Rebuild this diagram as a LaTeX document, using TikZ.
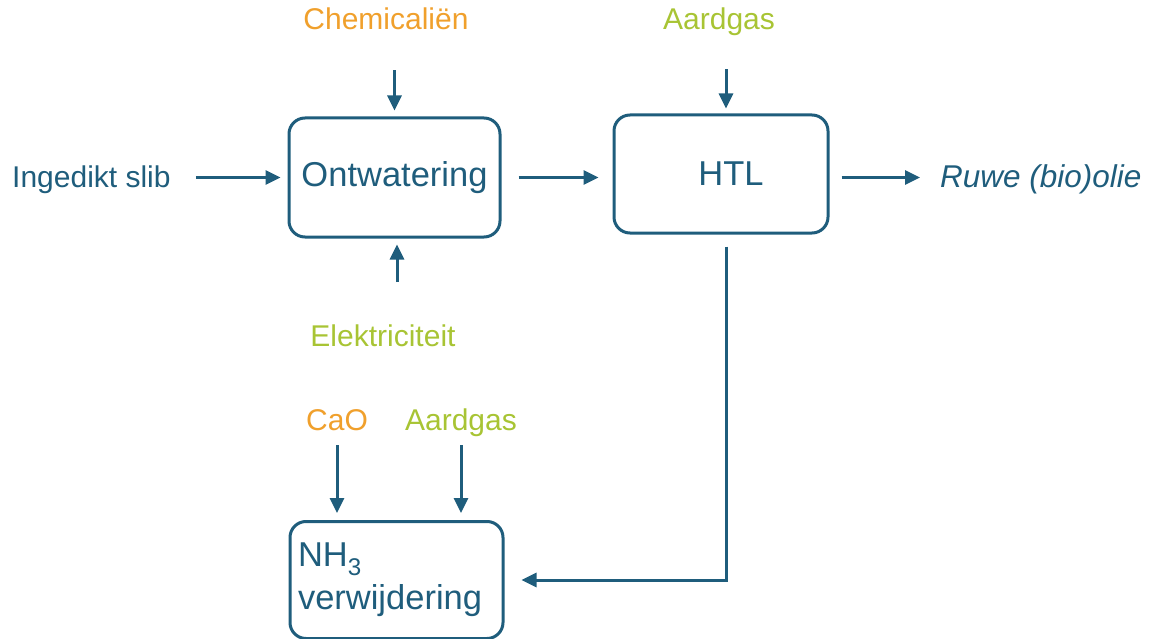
\documentclass[tikz,border=0pt]{standalone}
\usepackage{fontspec}
\setmainfont{Liberation Sans}
\usetikzlibrary{arrows.meta}
\definecolor{flowblue}{HTML}{1F5D7C}
\definecolor{chemorange}{HTML}{F0A02C}
\definecolor{energygreen}{HTML}{A8C434}
\begin{document}
\begin{tikzpicture}
    [
        x=1pt, y=-1pt,
        unit/.style={rectangle, draw=flowblue, line width=3pt, rounded corners=16pt,
            text=flowblue, font=\fontsize{34.5}{43}\selectfont},
        label/.style={inner sep=0pt, anchor=base, font=\fontsize{30}{36}\selectfont},
        flow/.style={draw=flowblue, line width=3pt, -{Triangle[length=15pt,width=14pt]}},
    ]
    \useasboundingbox (0,0) rectangle (1153,639);
    \node (ontw) at (394.5,177.5) [unit, minimum width=211pt, minimum height=119pt] {Ontwatering};
    \node (htl) at (721,174) [unit, minimum width=214pt, minimum height=118pt] {\hspace*{20pt}HTL};
    \node (nh3) at (396.5,580) [unit, minimum width=213pt, minimum height=117pt,
        text width=197pt, align=left] {NH\textsubscript{3}\\verwijdering};
    \node (chem) at (386,30) [label, text=chemorange] {Chemicaliën};
    \node (gas1) at (719,30) [label, text=energygreen] {Aardgas};
    \node (elek) at (383,346) [label, text=energygreen] {Elektriciteit};
    \node (slib) at (12,187) [label, anchor=base west, text=flowblue] {Ingedikt slib};
    \node (olie) at (940,188) [label, anchor=base west, text=flowblue,
        font=\fontsize{31.5}{36}\selectfont\itshape] {Ruwe (bio)olie};
    \node (cao) at (337,430) [label, text=chemorange] {CaO};
    \node (gas2) at (461,430) [label, text=energygreen] {Aardgas};
    \draw [flow, shorten <=40pt, shorten >=6pt] (chem.south -| ontw.north) -- (ontw.north);
    \draw [flow, shorten <=33pt, shorten >=5pt] ([xshift=5pt]htl.north |- gas1.south) -- ([xshift=5pt]htl.north);
    \draw [flow, shorten <=42pt, shorten >=6pt] ([xshift=2.5pt]ontw.south |- elek.north) -- ([xshift=2.5pt]ontw.south);
    \draw [flow, shorten <=25pt, shorten >=7pt] (slib.east |- ontw.west) -- (ontw.west);
    \draw [flow, shorten <=17pt, shorten >=14pt] (ontw.east) -- (htl.west |- ontw.east);
    \draw [flow, shorten <=12pt, shorten >=20pt] (htl.east |- ontw.east) -- (olie.west |- ontw.east);
    \draw [flow, shorten <=15pt, shorten >=7pt] (cao.south) -- (cao.south |- nh3.north);
    \draw [flow, shorten <=9pt, shorten >=7pt] (gas2.south) -- (gas2.south |- nh3.north);
    \draw [flow, shorten <=12pt, shorten >=17pt] ([xshift=5pt]htl.south) |- (nh3.east);
\end{tikzpicture}
\end{document}
